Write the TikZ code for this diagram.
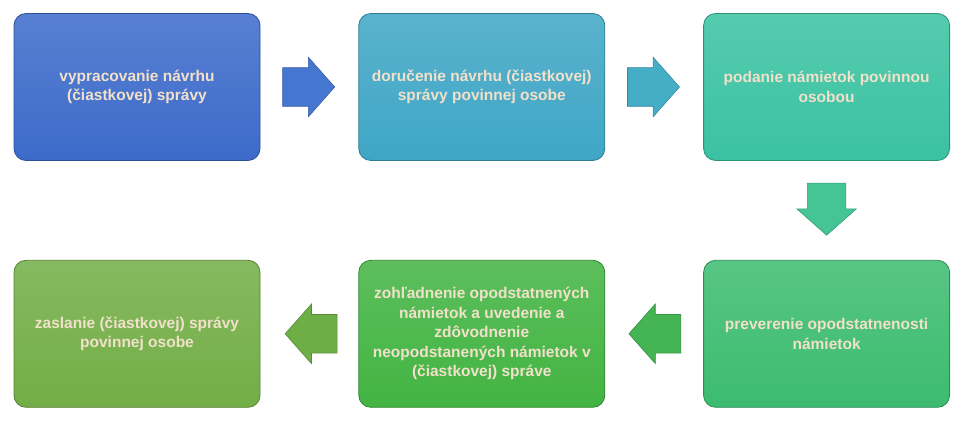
\documentclass[tikz,border=0pt]{standalone}
\usepackage{fontspec}
\setmainfont{Liberation Sans}
\usepackage{xcolor}
\usetikzlibrary{positioning, shapes.arrows, calc}

\definecolor{txtcream}{HTML}{F2E1CA}
\definecolor{boxA}{HTML}{3D6BCA}
\definecolor{boxB}{HTML}{3FA6C6}
\definecolor{boxC}{HTML}{3AC2A2}
\definecolor{boxD}{HTML}{3CBC70}
\definecolor{boxE}{HTML}{42B442}
\definecolor{boxF}{HTML}{72AE46}
\definecolor{arrA}{HTML}{4677D0}
\definecolor{arrB}{HTML}{45ADC6}
\definecolor{arrC}{HTML}{45C595}
\definecolor{arrD}{HTML}{44B552}
\definecolor{arrE}{HTML}{6DAE46}

\begin{document}
\begin{tikzpicture}[
		node distance=99pt and 98pt,
		every node/.style={font=\bfseries\fontsize{15.5pt}{19.5pt}\selectfont},
		stage/.style={rectangle, rounded corners=12pt, minimum width=246pt, minimum height=147pt,
			inner sep=0pt, align=center, text=txtcream,
			top color=#1!86!white, bottom color=#1, draw=#1!75!black, line width=0.8pt},
		flow/.style={single arrow, single arrow head extend=10.5pt, single arrow tip angle=97,
			minimum height=52pt, inner xsep=0pt, inner ysep=19pt, anchor=tail,
			fill=#1, draw=#1!80!black, line width=0.6pt}
		]
		
		\useasboundingbox (0,0) rectangle (962pt,-422pt);
		
		% Top row
		\node[stage=boxA] (navrh) at (137pt,-87pt) {vypracovanie návrhu\\(čiastkovej) správy};
		\node[stage=boxB, right=of navrh] (dorucenie) {doručenie návrhu (čiastkovej)\\správy povinnej osobe};
		\node[stage=boxC, right=of dorucenie] (namietky) {podanie námietok povinnou\\osobou};
		
		% Bottom row
		\node[stage=boxD, below=of namietky] (preverenie) {preverenie opodstatnenosti\\námietok};
		\node[stage=boxE, left=of preverenie] (zohladnenie) {zohľadnenie opodstatnených\\námietok a uvedenie a\\zdôvodnenie\\neopodstanených námietok v\\(čiastkovej) správe};
		\node[stage=boxF, left=of zohladnenie] (zaslanie) {zaslanie (čiastkovej) správy\\povinnej osobe};
		
		% Block arrows
		\node[flow=arrA] (krok1) at ($(navrh.east)+(22pt,0)$) {};
		\node[flow=arrB] (krok2) at ($(dorucenie.east)+(22pt,0)$) {};
		\node[flow=arrC, rotate=-90] (krok3) at ($(namietky.south)+(0,-22pt)$) {};
		\node[flow=arrD, rotate=180] (krok4) at ($(preverenie.west)+(-22pt,0)$) {};
		\node[flow=arrE, rotate=180] (krok5) at ($(zohladnenie.west)+(-21pt,0)$) {};
		
	\end{tikzpicture}
\end{document}
